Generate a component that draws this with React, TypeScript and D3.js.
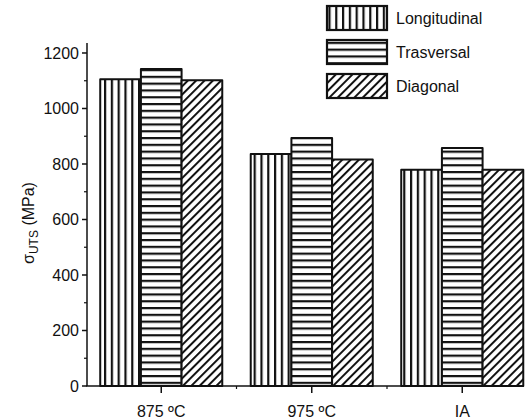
import React from 'react';
import * as d3 from 'd3';

const categories = ['875 ºC', '975 ºC', 'IA'];
const seriesNames = ['Longitudinal', 'Trasversal', 'Diagonal'];
const longitudinal = [1105, 836, 779];
const trasversal = [1142, 894, 858];
const diagonal = [1102, 816, 779];
const yTicks = [0, 200, 400, 600, 800, 1000, 1200];
const yMinorTicks = [100, 300, 500, 700, 900, 1100];

const W = 531;
const H = 419;

export default function App() {
  const values = [longitudinal, trasversal, diagonal];
  const patterns = ['pV', 'pH', 'pD'];
  const x = d3.scaleBand<string>().domain(categories).range([86, 537.5]).paddingInner(0).paddingOuter(0);
  const inner = d3.scaleBand<string>().domain(seriesNames).range([0, x.bandwidth()]).paddingOuter(0.35).paddingInner(0);
  const y = d3.scaleLinear().domain([0, 1236]).range([386, 43]);
  const x0 = 87;
  const xEnd = 524;
  const font = 'Liberation Sans, Arial, sans-serif';
  const ink = '#111';

  const boundaries = categories.slice(1).map((c) => x(c) as number);

  return (
    <svg width={W} height={H} style={{ position: 'absolute', left: 0, top: 0, background: '#fff' }} fontFamily={font}>
      <defs>
        <pattern id="pV" patternUnits="userSpaceOnUse" width={6.8} height={10} x={2}>
          <rect x={0} y={0} width={6.8} height={10} fill="#fff" />
          <rect x={0} y={0} width={2.2} height={10} fill={ink} />
        </pattern>
        <pattern id="pH" patternUnits="userSpaceOnUse" width={10} height={6.8} y={1}>
          <rect x={0} y={0} width={10} height={6.8} fill="#fff" />
          <rect x={0} y={0} width={10} height={2.2} fill={ink} />
        </pattern>
        <pattern id="pD" patternUnits="userSpaceOnUse" width={5.9} height={10} patternTransform="rotate(45)">
          <rect x={0} y={0} width={5.9} height={10} fill="#fff" />
          <rect x={0} y={0} width={2} height={10} fill={ink} />
        </pattern>
      </defs>
      <rect x={0} y={0} width={W} height={H} fill="#fff" />

      {/* bars */}
      {categories.map((c, ci) => (
        <g key={c}>
          {seriesNames.map((s, si) => {
            const bx = (x(c) as number) + (inner(s) as number);
            const v = values[si][ci];
            return (
              <rect
                key={s}
                x={bx}
                y={y(v)}
                width={inner.bandwidth()}
                height={y(0) - y(v)}
                fill={`url(#${patterns[si]})`}
                stroke={ink}
                strokeWidth={2}
                strokeLinejoin="round"
              />
            );
          })}
        </g>
      ))}

      {/* y axis */}
      <line x1={x0} x2={x0} y1={y(0)} y2={y(1236)} stroke={ink} strokeWidth={1.5} />
      {yTicks.map((t) => (
        <g key={t}>
          <line x1={x0 - 5} x2={x0} y1={y(t)} y2={y(t)} stroke={ink} strokeWidth={1.5} />
          <text x={x0 - 8} y={y(t)} dy="0.36em" textAnchor="end" fontSize={16} fill={ink}>
            {t}
          </text>
        </g>
      ))}
      {yMinorTicks.map((t) => (
        <line key={t} x1={x0 - 3} x2={x0} y1={y(t)} y2={y(t)} stroke={ink} strokeWidth={1.2} />
      ))}

      {/* x axis */}
      <line x1={x0 - 0.75} x2={xEnd} y1={y(0)} y2={y(0)} stroke={ink} strokeWidth={1.5} />
      {categories.map((c) => {
        const cx = (x(c) as number) + x.bandwidth() / 2;
        return (
          <g key={c}>
            <line x1={cx} x2={cx} y1={y(0)} y2={y(0) + 7} stroke={ink} strokeWidth={1.5} />
            <text x={cx} y={417} textAnchor="middle" fontSize={16} fill={ink}>
              {c}
            </text>
          </g>
        );
      })}
      {boundaries.map((b, i) => (
        <line key={i} x1={b} x2={b} y1={y(0)} y2={y(0) + 3} stroke={ink} strokeWidth={1.2} />
      ))}

      {/* y label */}
      <text transform={`translate(34,223) rotate(-90)`} textAnchor="middle" fontSize={16} fill={ink}>
        <tspan>σ</tspan>
        <tspan fontSize={12} dy={4}>UTS</tspan>
        <tspan dy={-4}> (MPa)</tspan>
      </text>

      {/* legend */}
      {seriesNames.map((s, i) => {
        const ly = 6 + i * 34;
        return (
          <g key={s}>
            <rect x={327} y={ly} width={60} height={24} fill={`url(#${patterns[i]})`} stroke={ink} strokeWidth={2.2} />
            <text x={396} y={ly + 18} fontSize={16} fill={ink}>
              {s}
            </text>
          </g>
        );
      })}
    </svg>
  );
}
